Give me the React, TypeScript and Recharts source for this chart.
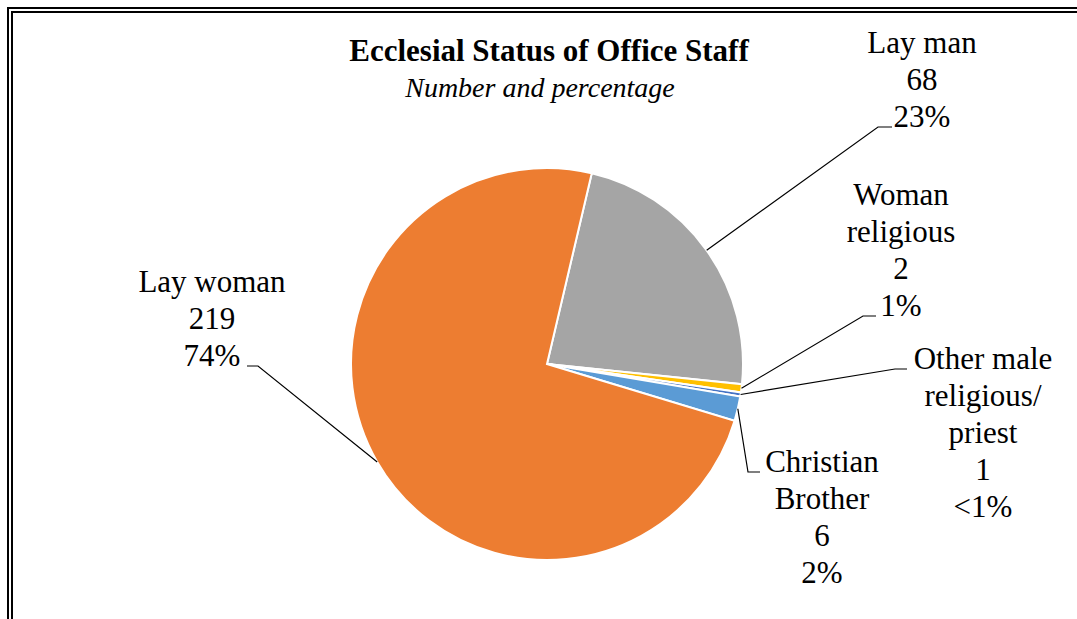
import React from 'react';
import { PieChart, Pie, Cell } from 'recharts';

const categories = ['Lay man', 'Woman religious', 'Other male religious/priest', 'Christian Brother', 'Lay woman'];
const values = [68, 2, 1, 6, 219];
const percentLabels = ['23%', '1%', '<1%', '2%', '74%'];
const nameLines = [['Lay man'], ['Woman', 'religious'], ['Other male', 'religious/', 'priest'], ['Christian', 'Brother'], ['Lay woman']];
const colors = ['#A5A5A5', '#FFC000', '#4472C4', '#5B9BD5', '#ED7D31'];

const data = categories.map((name, i) => ({ name, value: values[i] }));

// Label layout (text centre x, first baseline y, elbow, end of leader)
const labelLayout = [
  { tx: 922, ty: 53, ex: 878, ey: 127, endX: 892 },
  { tx: 901, ty: 205, ex: 863, ey: 316, endX: 876 },
  { tx: 983, ty: 369, ex: 895, ey: 369, endX: 907 },
  { tx: 822, ty: 472, ex: 748, ey: 472, endX: 760 },
  { tx: 212, ty: 292, ex: 258, ey: 366, endX: 247 },
];

const FONT = '"Liberation Serif", "Times New Roman", serif';
const RAD = Math.PI / 180;
const LINE_H = 37;

const renderLabel = (props: any) => {
  const { cx, cy, midAngle, outerRadius, index } = props;
  const L = labelLayout[index];
  const sx = cx + outerRadius * Math.cos(-midAngle * RAD);
  const sy = cy + outerRadius * Math.sin(-midAngle * RAD);
  const lines = [...nameLines[index], String(values[index]), percentLabels[index]];
  return (
    <g key={`lbl-${index}`}>
      <polyline points={`${sx},${sy} ${L.ex},${L.ey} ${L.endX},${L.ey}`} fill="none" stroke="#000" strokeWidth={1.2} />
      <text x={L.tx} y={L.ty} textAnchor="middle" fontFamily={FONT} fontSize={31} fill="#000">
        {lines.map((t, i) => (
          <tspan key={i} x={L.tx} y={L.ty + i * LINE_H}>{t}</tspan>
        ))}
      </text>
    </g>
  );
};

export default function App() {
  return (
    <div style={{ position: 'absolute', left: 0, top: 0, width: 1077, height: 619, background: '#fff', overflow: 'hidden' }}>
      <div style={{ position: 'absolute', left: 7, top: 7, width: 1200, height: 800, borderLeft: '6px double #000', borderTop: '6px double #000', boxSizing: 'border-box' }} />
      <svg width={1077} height={619} style={{ position: 'absolute', left: 0, top: 0 }}>
        <text x={549} y={61} textAnchor="middle" fontFamily={FONT} fontSize={31} fontWeight="bold" fill="#000">Ecclesial Status of Office Staff</text>
        <text x={540} y={97} textAnchor="middle" fontFamily={FONT} fontSize={28} fontStyle="italic" fill="#000">Number and percentage</text>
      </svg>
      <div style={{ position: 'absolute', left: 0, top: 0 }}>
        <PieChart width={1077} height={619} margin={{ top: 0, right: 0, bottom: 0, left: 0 }}>
          <Pie
            data={data}
            dataKey="value"
            nameKey="name"
            cx={547}
            cy={364}
            outerRadius={196}
            startAngle={76.8}
            endAngle={-283.2}
            stroke="#fff"
            strokeWidth={2}
            label={renderLabel}
            labelLine={false}
            isAnimationActive={false}
          >
            {data.map((d, i) => (
              <Cell key={d.name} fill={colors[i]} />
            ))}
          </Pie>
        </PieChart>
      </div>
    </div>
  );
}
